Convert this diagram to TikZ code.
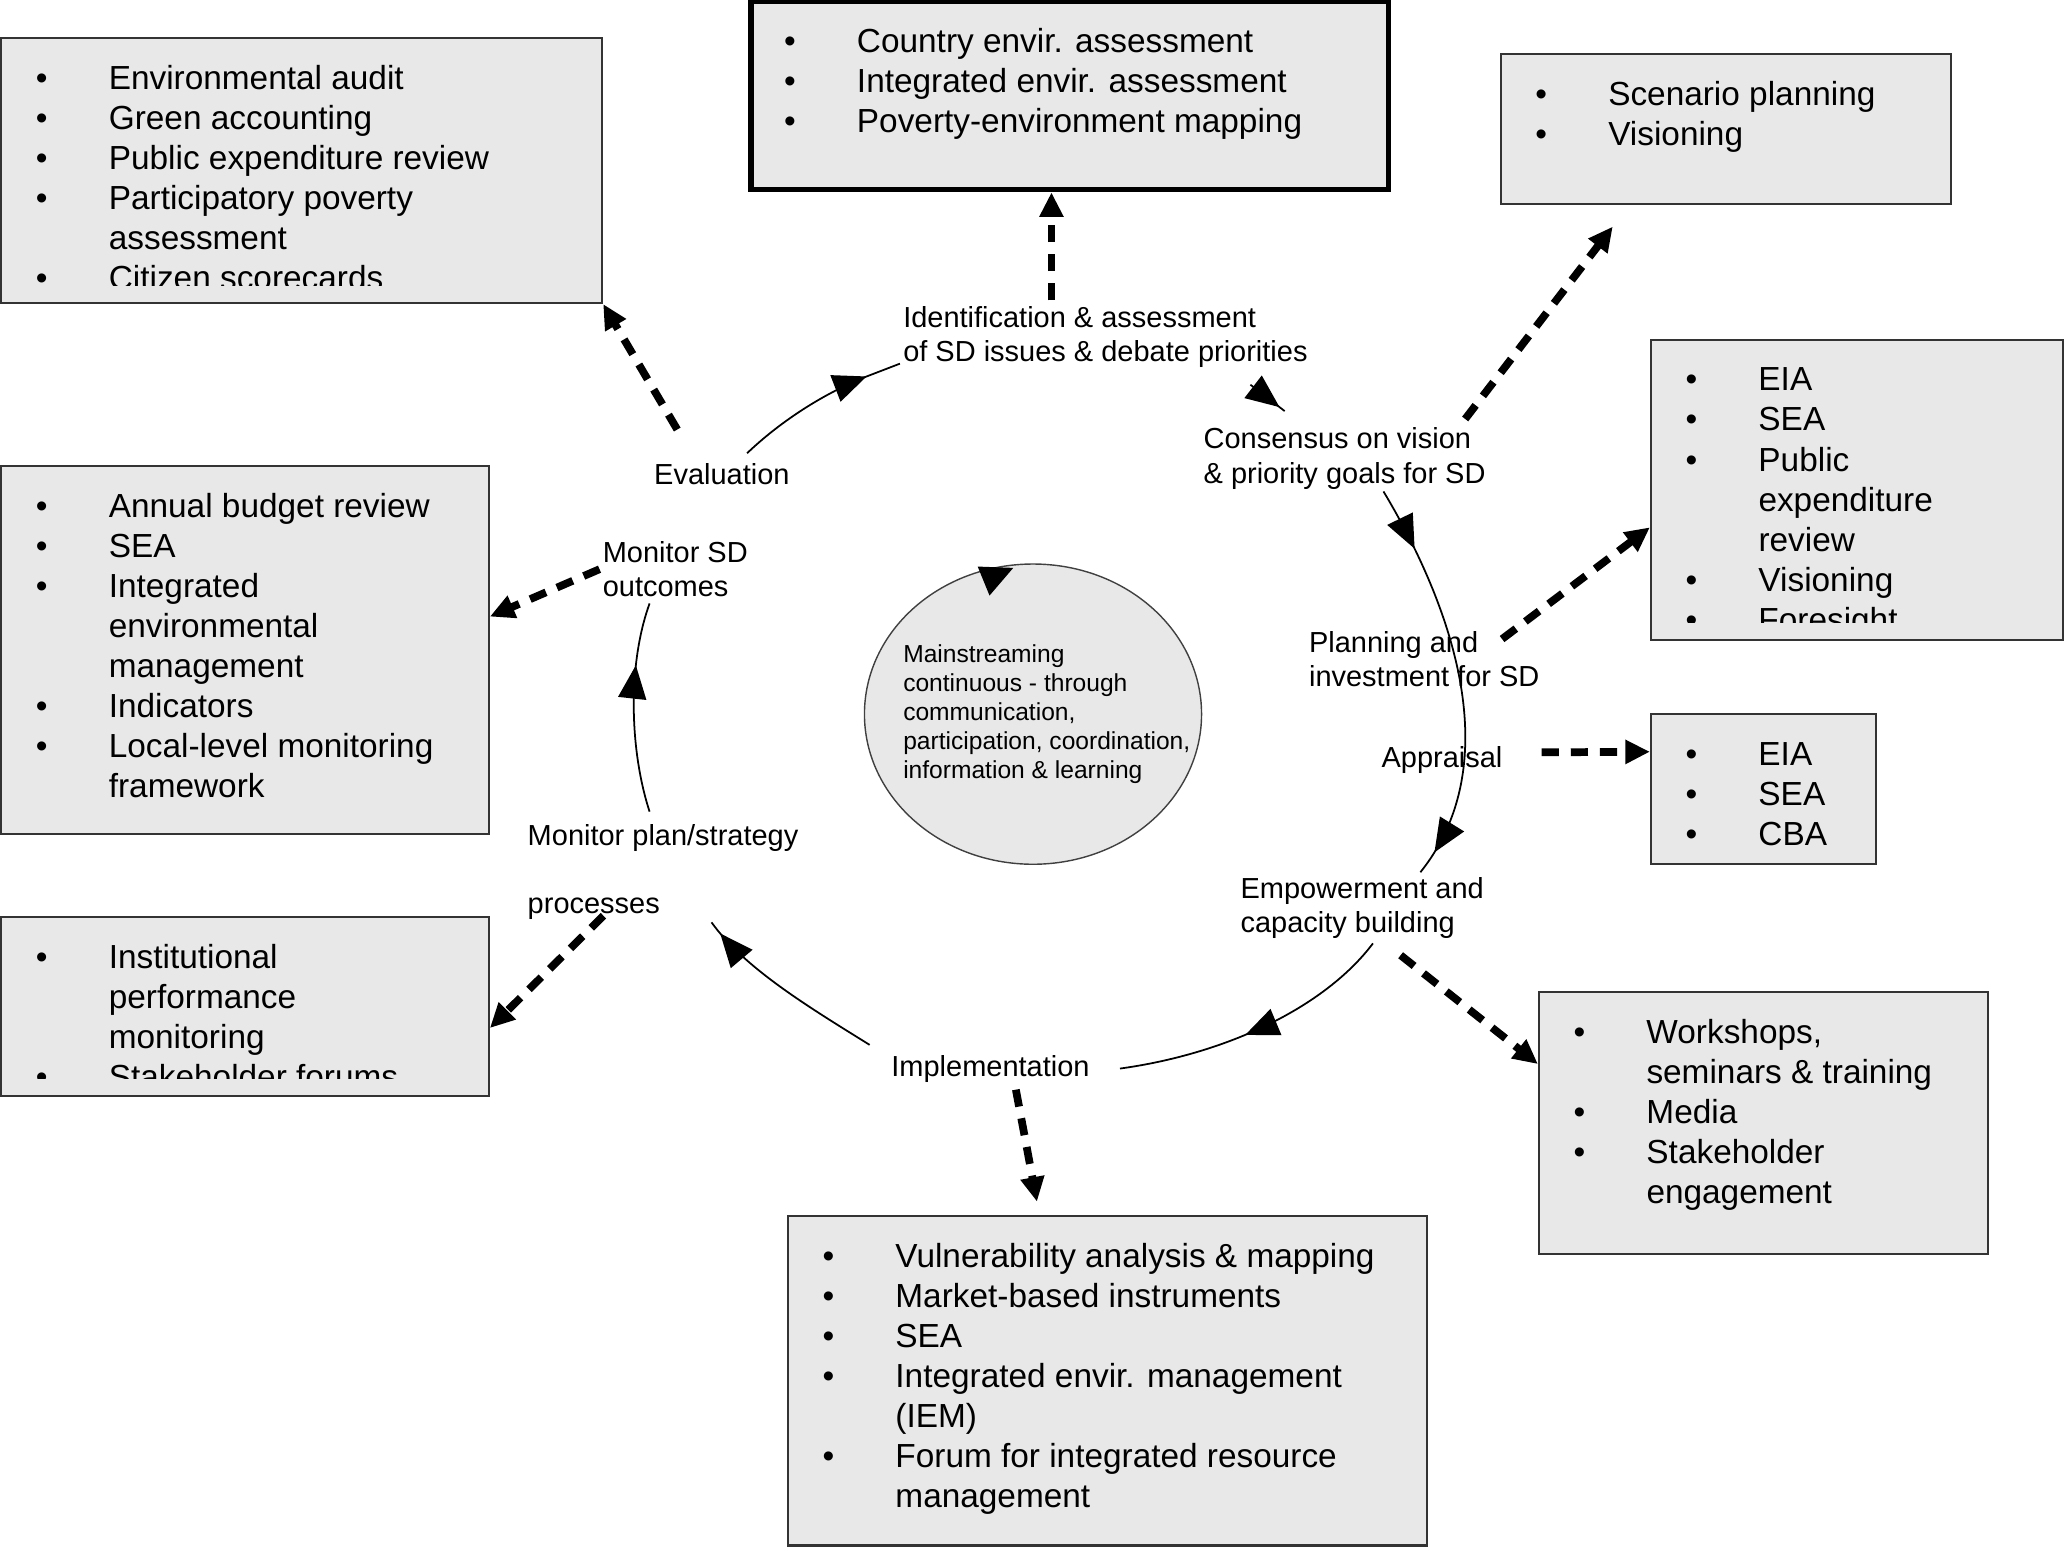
\documentclass[tikz,border=0pt]{standalone}
\usepackage{fontspec}
\setmainfont{Liberation Sans}
\usepackage{tikz}
\usetikzlibrary{calc,fit,shapes.geometric,arrows.meta,decorations.markings}

\definecolor{panelfill}{gray}{0.91}
\definecolor{paneledge}{gray}{0.2}

\newcommand{\toollist}[1]{\begin{tabular}[t]{@{}p{0.73cm}@{}l@{}}#1\end{tabular}}
\newcommand{\bul}{\textbullet &}

\tikzset{
	panel/.style={draw=paneledge, line width=0.6pt, fill=panelfill, inner sep=0pt},
	keypanel/.style={panel, draw=black, line width=1.5pt},
	itemlist/.style={anchor=base west, inner sep=0pt, font=\fontsize{9.5}{11.4}\selectfont},
	stage/.style={anchor=west, inner sep=0pt, align=left, font=\fontsize{8.25}{9.7}\selectfont},
	tooldash/.style={line width=2.2pt, dash pattern=on 4.9pt off 3.4pt, -{Triangle[length=7pt,width=6.5pt]}},
	loopline/.style={line width=0.5pt},
	tipat/.style={postaction={decorate, decoration={markings,
		mark=at position #1 with {\arrow{Triangle[length=9.5pt,width=8pt]}}}}},
}

\begin{document}
\begin{tikzpicture}[x=0.013176cm, y=-0.013176cm]

	% ---- parameters

	\def\bx{26.5}
	\def\by{39.5}
	\def\cut{14}

	\useasboundingbox (0,0) rectangle (1568,1175);

	% ---- tool panels

	\node[panel, fit={(1,29) (457,230)}] (audit) {};
	\node[keypanel, fit={(570,1) (1054,144)}] (country) {};
	\node[panel, fit={(1139,41) (1481,155)}] (scenario) {};
	\node[panel, fit={(1253,258) (1566,486)}] (planbox) {};
	\node[panel, fit={(1253,542) (1424,656)}] (apprbox) {};
	\node[panel, fit={(1168,753) (1509,952)}] (capbox) {};
	\node[panel, fit={(598,923) (1083,1173)}] (implbox) {};
	\node[panel, fit={(1,696) (371,832)}] (instbox) {};
	\node[panel, fit={(1,354) (371,633)}] (monbox) {};

	% ---- panel lists

	\begin{scope}
		\clip (audit.north west) rectangle ($(audit.south east)+(0,-\cut)$);
		\node[itemlist] (auditlist) at ($(audit.north west)+(\bx,\by)$) {\toollist{
			\bul Environmental audit\\
			\bul Green accounting\\
			\bul Public expenditure review\\
			\bul Participatory poverty\\
			& assessment\\
			\bul Citizen scorecards}};
	\end{scope}

	\node[itemlist] (countrylist) at ($(country.north west)+(\bx,\by+1)$) {\toollist{
		\bul Country envir. assessment\\
		\bul Integrated envir. assessment\\
		\bul Poverty-environment mapping}};

	\node[itemlist] (scenariolist) at ($(scenario.north west)+(\bx,\by)$) {\toollist{
		\bul Scenario planning\\
		\bul Visioning}};

	\begin{scope}
		\clip (planbox.north west) rectangle ($(planbox.south east)+(0,-\cut)$);
		\node[itemlist] (planlist) at ($(planbox.north west)+(\bx,\by)$) {\toollist{
			\bul EIA\\
			\bul SEA\\
			\bul Public\\
			& expenditure\\
			& review\\
			\bul Visioning\\
			\bul Foresight}};
	\end{scope}

	\node[itemlist] (apprlist) at ($(apprbox.north west)+(\bx,\by)$) {\toollist{
		\bul EIA\\
		\bul SEA\\
		\bul CBA}};

	\node[itemlist] (caplist) at ($(capbox.north west)+(\bx,\by)$) {\toollist{
		\bul Workshops,\\
		& seminars \& training\\
		\bul Media\\
		\bul Stakeholder\\
		& engagement}};

	\node[itemlist] (impllist) at ($(implbox.north west)+(\bx,\by)$) {\toollist{
		\bul Vulnerability analysis \& mapping\\
		\bul Market-based instruments\\
		\bul SEA\\
		\bul Integrated envir. management\\
		& (IEM)\\
		\bul Forum for integrated resource\\
		& management}};

	\begin{scope}
		\clip (instbox.north west) rectangle ($(instbox.south east)+(0,-\cut)$);
		\node[itemlist] (instlist) at ($(instbox.north west)+(\bx,\by)$) {\toollist{
			\bul Institutional\\
			& performance\\
			& monitoring\\
			\bul Stakeholder forums}};
	\end{scope}

	\node[itemlist] (monlist) at ($(monbox.north west)+(\bx,\by)$) {\toollist{
		\bul Annual budget review\\
		\bul SEA\\
		\bul Integrated\\
		& environmental\\
		& management\\
		\bul Indicators\\
		\bul Local-level monitoring\\
		& framework}};

	% ---- hub

	\node[ellipse, draw=black!75, line width=0.4pt, fill=panelfill, inner sep=0pt,
		minimum width=3.373cm, minimum height=3.004cm] (hub) at (784,542) {};
	\node[anchor=west, inner sep=0pt, align=left, font=\fontsize{7}{8.25}\selectfont] (hubtext)
		at (685,542) {Mainstreaming\\continuous - through\\communication,\\participation, coordination,\\information \& learning};
	\fill (742,430) -- (769,431) -- (751,452) -- cycle;

	% ---- stage labels

	\node[stage] (ident) at (685,256) {Identification \& assessment\\of SD issues \& debate priorities};
	\node[stage] (consensus) at (913,348) {Consensus on vision\\\& priority goals for SD};
	\node[stage] (planning) at (993,500) {Planning and\\investment for SD};
	\node[stage] (appraisal) at (1048,577) {Appraisal};
	\node[stage] (empower) at (941,689) {Empowerment and\\capacity building};
	\node[stage] (implement) at (676,811) {Implementation};
	\node[stage] (monplan) at (400,662) {Monitor plan/strategy\\[9.7pt]processes};
	\node[stage] (monsd) at (457,432) {Monitor SD\\outcomes};
	\node[stage] (evaluation) at (496,360) {Evaluation};

	% ---- cycle arcs

	\coordinate (evalA) at (567,344);
	\coordinate (identA) at (683,276);
	\draw[loopline, tipat=0.8] (evalA) .. controls (590,322) and (622,300) .. (657,286) -- (identA);

	\coordinate (identB) at (949,292);
	\coordinate (consB) at (975,312);
	\draw[loopline, tipat=0.85] (identB) -- (consB);

	\coordinate (consC) at (1050,373);
	\coordinate (empC) at (1078,662);
	\draw[loopline, tipat=0.16, tipat=0.94] (consC) .. controls (1092,443) and (1150,572) .. (empC);

	\coordinate (empD) at (1042,716);
	\coordinate (implD) at (850,811);
	\draw[loopline, tipat=0.55] (empD) .. controls (1005,765) and (930,800) .. (implD);

	\coordinate (implE) at (660,793);
	\coordinate (monplE) at (540,700);
	\draw[loopline, tipat=0.93] (implE) .. controls (615,765) and (565,735) .. (monplE);

	\coordinate (monplF) at (493,616);
	\coordinate (monsdF) at (493,458);
	\draw[loopline, tipat=0.7] (monplF) .. controls (478,570) and (476,505) .. (monsdF);

	% ---- tool arrows

	\coordinate (evalout) at (514,326);
	\draw[tooldash] (evalout) -- (audit.south east);

	\coordinate (identout) at (798,228);
	\draw[tooldash] (identout) -- (country.south -| identout);

	\coordinate (consout) at (1112,318);
	\coordinate (scenin) at (1224,172);
	\draw[tooldash] (consout) -- (scenin);

	\coordinate (planout) at (1140,485);
	\draw[tooldash] (planout) -- ($(planbox.north west)!0.623!(planbox.south west)$);

	\coordinate (approut) at (1170,571);
	\draw[tooldash] (approut) -- ($(apprbox.north west)!0.254!(apprbox.south west)$);

	\coordinate (empout) at (1063,725);
	\draw[tooldash] (empout) -- ($(capbox.north west)!0.276!(capbox.south west)$);

	\coordinate (implout) at (771,827);
	\coordinate (implin) at (787,912);
	\draw[tooldash] (implout) -- (implin);

	\coordinate (monplout) at (458,695);
	\draw[tooldash] (monplout) -- ($(instbox.north east)!0.618!(instbox.south east)$);

	\coordinate (monsdout) at (455,432);
	\draw[tooldash] (monsdout) -- ($(monbox.north east)!0.409!(monbox.south east)$);

\end{tikzpicture}
\end{document}
